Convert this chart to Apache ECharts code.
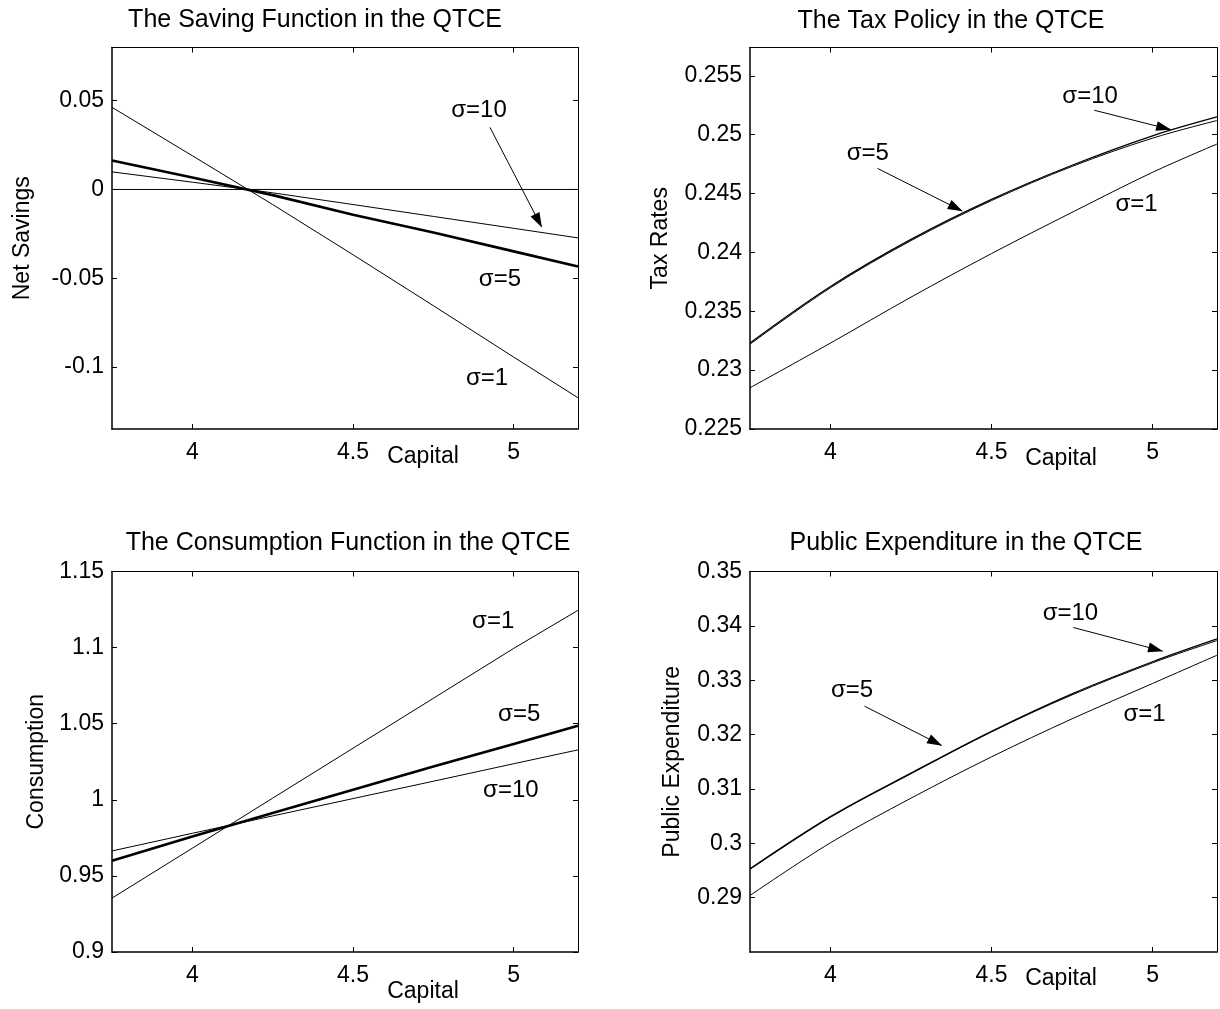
<!DOCTYPE html>
<html>
<head>
<meta charset="utf-8">
<script src="https://cdn.jsdelivr.net/npm/echarts@6/dist/echarts.min.js"></script>
<style>
html,body{margin:0;padding:0;background:#fff;}
#chart{width:1220px;height:1009px;}
</style>
</head>
<body>
<div id="chart"></div>
<script>
// ---------- DATA ----------
const capital = [3.75, 4, 4.25, 4.5, 4.75, 5, 5.2];
const capitalTicks = [4, 4.5, 5];

// Saving function
const savingS1  = [0.0463, 0.0190, -0.0085, -0.0368, -0.0655, -0.0945, -0.1174];
const savingS5  = [0.0163, 0.0067, -0.0032, -0.0142, -0.0243, -0.0349, -0.0434];
const savingS10 = [0.0099, 0.0041, -0.0019, -0.0085, -0.0152, -0.0219, -0.0273];
const savingZeroX = [3.75, 5.2];
const savingZero  = [0, 0];
const savingTicks = [-0.1, -0.05, 0, 0.05];

// Tax policy
const taxS1  = [0.2285, 0.2323, 0.2362, 0.2399, 0.2434, 0.2468, 0.2492];
const taxS5  = [0.2323, 0.2371, 0.2411, 0.2445, 0.2474, 0.2499, 0.2515];
const taxS10 = [0.2322, 0.2370, 0.2410, 0.2444, 0.2473, 0.2497, 0.2512];
const taxTicks = [0.225, 0.23, 0.235, 0.24, 0.245, 0.25, 0.255];

// Consumption
const consS1  = [0.9354, 0.9682, 1.0011, 1.0339, 1.0667, 1.0995, 1.1245];
const consS5  = [0.9600, 0.9759, 0.9914, 1.0066, 1.0218, 1.0367, 1.0487];
const consS10 = [0.9664, 0.9780, 0.9894, 1.0008, 1.0122, 1.0237, 1.0328];
const consTicks = [0.9, 0.95, 1, 1.05, 1.1, 1.15];

// Public expenditure
const pubS1  = [0.2904, 0.3001, 0.3083, 0.3159, 0.3229, 0.3294, 0.3346];
const pubS5  = [0.2953, 0.3049, 0.3129, 0.3206, 0.3275, 0.3334, 0.3376];
const pubS10 = [0.2952, 0.3048, 0.3128, 0.3205, 0.3273, 0.3332, 0.3373];
const pubTicks = [0.29, 0.3, 0.31, 0.32, 0.33, 0.34, 0.35];

// Annotations: [x, y, text] and arrows [x1, y1, x2, y2] (data coordinates)
const savingLabels = [[4.892, 0.0444, 'σ=10'], [4.957, -0.0506, 'σ=5'], [4.917, -0.1062, 'σ=1']];
const savingArrows = [[4.926, 0.035, 5.087, -0.0212]];
const taxLabels = [[4.806, 0.25326, 'σ=10'], [4.116, 0.24844, 'σ=5'], [4.950, 0.24405, 'σ=1']];
const taxArrows = [[4.819, 0.25207, 5.056, 0.25043], [4.146, 0.24713, 4.409, 0.24351]];
const consLabels = [[4.936, 1.1173, 'σ=1'], [5.017, 1.0563, 'σ=5'], [4.991, 1.0063, 'σ=10']];
const consArrows = [];
const pubLabels = [[4.745, 0.34226, 'σ=10'], [4.067, 0.32821, 'σ=5'], [4.975, 0.32363, 'σ=1']];
const pubArrows = [[4.754, 0.3397, 5.031, 0.33535], [4.1055, 0.32523, 4.345, 0.318]];

const titles = ['The Saving Function in the QTCE', 'The Tax Policy in the QTCE',
                'The Consumption Function in the QTCE', 'Public Expenditure in the QTCE'];
const yNames = ['Net Savings', 'Tax Rates', 'Consumption', 'Public Expenditure'];
const xName = 'Capital';

// ---------- LAYOUT ----------
const FONT = '"Liberation Sans", Arial, sans-serif';
const grids = [
  {left: 112, top: 47.5, width: 466, height: 381.5},
  {left: 750, top: 47.5, width: 467, height: 381.5},
  {left: 112, top: 571.5, width: 466, height: 380.5},
  {left: 750, top: 571.5, width: 467, height: 380.5}
];
const yRanges = [[-0.135, 0.08], [0.225, 0.2574], [0.9, 1.15], [0.28, 0.35]];
const yTickSets = [savingTicks, taxTicks, consTicks, pubTicks];
const yNameGaps = [78, 78, 64, 66];
const titlePos = [[315, 20], [951, 21], [348, 543], [966, 543]];
const capitalPos = [[423, 457], [1061, 459], [423, 992], [1061, 979]];
const curveSmooth = [false, 0.35, false, 0.35];

const xAxes = [], yAxes = [], series = [], graphics = [];

function boxAxes(g) {
  const tickStyle = {inside: true, length: 5, lineStyle: {color: '#000', width: 1}};
  xAxes.push({
    gridIndex: g, type: 'value', position: 'bottom', min: 3.75, max: 5.2,
    axisLine: {onZero: false, lineStyle: {color: '#000', width: 1.5}},
    axisTick: Object.assign({customValues: capitalTicks}, tickStyle),
    axisLabel: {customValues: capitalTicks, color: '#000', fontSize: 23, fontFamily: FONT, margin: 12},
    splitLine: {show: false}
  });
  xAxes.push({
    gridIndex: g, type: 'value', position: 'top', min: 3.75, max: 5.2,
    axisLine: {onZero: false, lineStyle: {color: '#000', width: 1}},
    axisTick: Object.assign({customValues: capitalTicks}, tickStyle),
    axisLabel: {show: false},
    splitLine: {show: false}
  });
  const yt = yTickSets[g];
  yAxes.push({
    gridIndex: g, type: 'value', position: 'left', min: yRanges[g][0], max: yRanges[g][1],
    name: yNames[g], nameLocation: 'middle', nameGap: yNameGaps[g], nameRotate: 90,
    nameTextStyle: {color: '#000', fontSize: 23, fontFamily: FONT},
    axisLine: {onZero: false, lineStyle: {color: '#000', width: 1.5}},
    axisTick: Object.assign({customValues: yt}, tickStyle),
    axisLabel: {customValues: yt, color: '#000', fontSize: 23, fontFamily: FONT, margin: 8},
    splitLine: {show: false}
  });
  yAxes.push({
    gridIndex: g, type: 'value', position: 'right', min: yRanges[g][0], max: yRanges[g][1],
    axisLine: {onZero: false, lineStyle: {color: '#000', width: 1}},
    axisTick: Object.assign({customValues: yt}, tickStyle),
    axisLabel: {show: false},
    splitLine: {show: false}
  });
}

function lineSeries(g, xs, ys, width, name) {
  return {
    name: name, type: 'line', xAxisIndex: g * 2, yAxisIndex: g * 2,
    data: xs.map((x, i) => [x, ys[i]]),
    showSymbol: false, symbol: 'none', smooth: curveSmooth[g],
    lineStyle: {color: '#000', width: width}, silent: true, z: 3
  };
}

function annotSeries(g, labels, arrows) {
  return {
    type: 'scatter', xAxisIndex: g * 2, yAxisIndex: g * 2,
    data: labels.map(l => ({value: [l[0], l[1]], name: l[2]})),
    symbol: 'circle', symbolSize: 2, itemStyle: {color: 'rgba(255,255,255,0)'}, silent: true, z: 5,
    label: {show: true, position: [1, 1], align: 'center', verticalAlign: 'middle',
            formatter: p => p.name, opacity: 1, textBorderWidth: 0,
            color: '#000', fontSize: 24, fontFamily: FONT},
    markLine: {
      silent: true, animation: false,
      symbol: ['none', 'triangle'], symbolSize: [10, 15],
      symbolOffset: [[0, 0], [0, 7]],
      label: {show: false},
      lineStyle: {color: '#000', width: 1, type: 'solid'},
      itemStyle: {color: '#000'},
      data: arrows.map(a => [{coord: [a[0], a[1]]}, {coord: [a[2], a[3]]}])
    }
  };
}

for (let g = 0; g < 4; g++) boxAxes(g);

series.push(lineSeries(0, savingZeroX, savingZero, 1, 'zero'));
series.push(lineSeries(0, capital, savingS1, 1, 'σ=1'));
series.push(lineSeries(0, capital, savingS5, 2.6, 'σ=5'));
series.push(lineSeries(0, capital, savingS10, 1, 'σ=10'));
series.push(annotSeries(0, savingLabels, savingArrows));

series.push(lineSeries(1, capital, taxS1, 1, 'σ=1'));
series.push(lineSeries(1, capital, taxS5, 1.3, 'σ=5'));
series.push(lineSeries(1, capital, taxS10, 1, 'σ=10'));
series.push(annotSeries(1, taxLabels, taxArrows));

series.push(lineSeries(2, capital, consS1, 1, 'σ=1'));
series.push(lineSeries(2, capital, consS5, 2.6, 'σ=5'));
series.push(lineSeries(2, capital, consS10, 1, 'σ=10'));
series.push(annotSeries(2, consLabels, consArrows));

series.push(lineSeries(3, capital, pubS1, 1, 'σ=1'));
series.push(lineSeries(3, capital, pubS5, 1.3, 'σ=5'));
series.push(lineSeries(3, capital, pubS10, 1, 'σ=10'));
series.push(annotSeries(3, pubLabels, pubArrows));

for (let g = 0; g < 4; g++) {
  graphics.push({
    type: 'text', x: titlePos[g][0], y: titlePos[g][1], silent: true,
    style: {text: titles[g], fill: '#000', font: '25px ' + FONT, textAlign: 'center', textVerticalAlign: 'middle'}
  });
  graphics.push({
    type: 'text', x: capitalPos[g][0], y: capitalPos[g][1], silent: true,
    style: {text: xName, fill: '#000', font: '23px ' + FONT, textAlign: 'center', textVerticalAlign: 'middle'}
  });
}

const chart = echarts.init(document.getElementById('chart'), null, {renderer: 'canvas'});
chart.setOption({
  animation: false,
  backgroundColor: '#fff',
  grid: grids,
  xAxis: xAxes,
  yAxis: yAxes,
  series: series,
  graphic: graphics
});
</script>
</body>
</html>
